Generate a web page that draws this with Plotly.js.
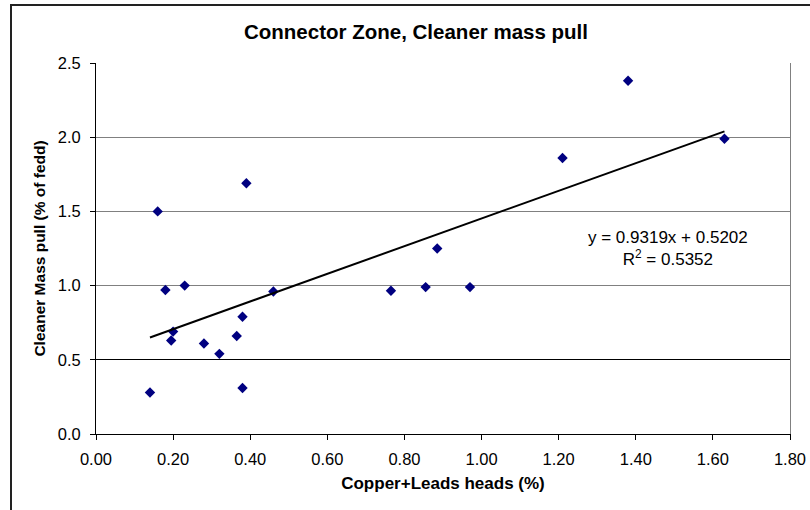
<!DOCTYPE html>
<html>
<head>
<meta charset="utf-8">
<script src="https://cdn.plot.ly/plotly-3.0.1.min.js"></script>
<style>
html,body{margin:0;padding:0;background:#fff;}
#wrap{position:relative;width:810px;height:510px;overflow:hidden;}
#frame{position:absolute;left:10px;top:4px;width:900px;height:700px;border:2px solid #222;box-sizing:border-box;}
#chart{position:absolute;left:0;top:0;width:810px;height:510px;}
</style>
</head>
<body>
<div id="wrap"><div id="frame"></div><div id="chart"></div></div>
<script>
// Data
const copperLeads = [0.14, 0.16, 0.18, 0.195, 0.20, 0.23, 0.28, 0.32, 0.365, 0.38, 0.38, 0.39, 0.46, 0.765, 0.855, 0.885, 0.97, 1.21, 1.38, 1.63];
const massPull    = [0.28, 1.50, 0.97, 0.63, 0.69, 1.00, 0.61, 0.54, 0.66, 0.79, 0.31, 1.69, 0.96, 0.965, 0.99, 1.25, 0.99, 1.86, 2.38, 1.99];
const trendSlope = 0.9319;
const trendIntercept = 0.5202;
const rSquared = 0.5352;
const xTickVals = [0, 0.2, 0.4, 0.6, 0.8, 1.0, 1.2, 1.4, 1.6, 1.8];
const yTickVals = [0, 0.5, 1.0, 1.5, 2.0, 2.5];

const xMin = Math.min(...copperLeads), xMax = Math.max(...copperLeads);
const trendX = [xMin, xMax];
const trendY = trendX.map(v => trendSlope * v + trendIntercept);

const font = 'Liberation Sans, Arial, sans-serif';

const traces = [
  {x: copperLeads, y: massPull, type: 'scatter', mode: 'markers',
   marker: {symbol: 'diamond', size: 8, color: '#000080'}, hoverinfo: 'x+y'},
  {x: trendX, y: trendY, type: 'scatter', mode: 'lines',
   line: {color: '#000', width: 2}},
  {x: [0], y: [0], type: 'scatter', mode: 'markers', yaxis: 'y2', marker: {opacity: 0}, hoverinfo: 'skip'}
];

const layout = {
  width: 810, height: 510,
  paper_bgcolor: 'rgba(0,0,0,0)', plot_bgcolor: 'rgba(0,0,0,0)',
  margin: {l: 96, r: 20, t: 63, b: 76},
  showlegend: false,
  font: {family: font, color: '#000', size: 16},
  title: {text: '<b>Connector Zone, Cleaner mass pull</b>', font: {family: font, size: 20.5, color: '#000'},
          xref: 'container', x: 0.5136, xanchor: 'center', yref: 'container', y: 0.937, yanchor: 'middle'},
  xaxis: {range: [0, 1.8], tickvals: xTickVals, tickformat: '.2f',
          showgrid: false, zeroline: false, showline: true, linecolor: '#000', linewidth: 1,
          ticks: 'outside', ticklen: 5, tickcolor: '#000', tickfont: {size: 16.5}, ticklabelstandoff: 5,
          title: {text: '<b>Copper+Leads heads (%)</b>', font: {size: 17}, standoff: 10}},
  yaxis: {range: [0, 2.5], tickvals: yTickVals, tickformat: '.1f',
          showgrid: true, gridcolor: '#808080', gridwidth: 1, zeroline: false,
          showline: true, linecolor: '#000', linewidth: 1,
          ticks: 'outside', ticklen: 5, tickcolor: '#000', tickfont: {size: 16.5}, ticklabelstandoff: 6,
          title: {text: '<b>Cleaner Mass pull (% of fedd)</b>', font: {size: 15.5}, standoff: 8}},
  yaxis2: {overlaying: 'y', side: 'right', range: [0, 2.5], tickvals: [0.5],
           showticklabels: false, ticks: '', showgrid: true, gridcolor: '#000', gridwidth: 1,
           zeroline: false, showline: true, linecolor: '#808080', linewidth: 1},
  annotations: [{
    x: 1.483, y: 1.248, xref: 'x', yref: 'y', showarrow: false, align: 'center',
    text: 'y = ' + trendSlope.toFixed(4) + 'x + ' + trendIntercept.toFixed(4) + '<br>R<sup>2</sup> = ' + rSquared.toFixed(4),
    font: {size: 17, family: font, color: '#000'}
  }]
};

Plotly.newPlot('chart', traces, layout, {staticPlot: true, displayModeBar: false});
</script>
</body>
</html>
